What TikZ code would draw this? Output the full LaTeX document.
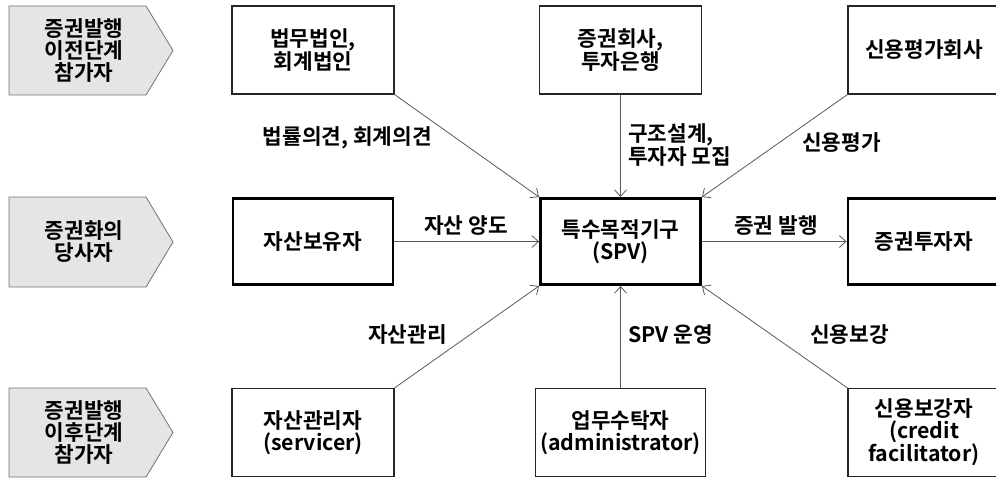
\documentclass[tikz,border=0pt]{standalone}
\usepackage{fontspec}
\setmainfont{Noto Sans CJK KR Bold}
\usetikzlibrary{arrows.meta}

\begin{document}
\begin{tikzpicture}
  [x=0.75pt,y=-0.75pt,
   every node/.style={font=\fontsize{16}{16.5}\selectfont,align=center},
   phase/.style={draw=black!55,fill=black!10,line width=0.6pt},
   thinbox/.style={draw=black!85,line width=0.8pt,minimum width=121.5pt,minimum height=66pt},
   thickbox/.style={draw=black,line width=2.2pt,minimum width=120pt,minimum height=64.5pt},
   flow/.style={draw=black!65,line width=0.6pt,-{Straight Barb[length=5pt,width=9pt]}},
   lbl/.style={inner sep=0pt}]
  \useasboundingbox (0,0) rectangle (996,478);
  \clip (0,0) rectangle (996,478);

  % stages
  \draw[phase] (9,6) -- (146,6) -- (173,50.5) -- (146,95) -- (9,95) -- cycle;
  \draw[phase] (9,197) -- (146,197) -- (173,242) -- (146,287) -- (9,287) -- cycle;
  \draw[phase] (9,388) -- (146,388) -- (173,432.5) -- (146,477) -- (9,477) -- cycle;
  \node (ph1) at (84,50.5) {증권발행\\이전단계\\참가자};
  \node (ph2) at (84,242) {증권화의\\당사자};
  \node (ph3) at (84,432.5) {증권발행\\이후단계\\참가자};

  % participants
  \node[thinbox] (law) at (313,50) {법무법인,\\회계법인};
  \node[thinbox] (sec) at (620.5,50) {증권회사,\\투자은행};
  \node[thinbox,minimum width=114pt] (rating) at (924,50) {신용평가회사};
  \node[thickbox] (orig) at (313,241.5) {자산보유자};
  \node[thickbox] (spv) at (620.5,241.5) {특수목적기구\\(SPV)};
  \node[thickbox,minimum width=114pt] (inv) at (924,241.5) {증권투자자};
  \node[thinbox] (serv) at (313,432.5) {자산관리자\\(servicer)};
  \node[thinbox] (admin) at (620.5,432.5) {업무수탁자\\(administrator)};
  \node[thinbox,minimum width=114pt] (credit) at (924,432.5) {신용보강자\\(credit\\facilitator)};

  \foreach \from/\to in {law.south east/spv.north west,sec.south/spv.north,rating.south west/spv.north east,
                         orig.east/spv.west,spv.east/inv.west,
                         serv.north east/spv.south west,admin.north/spv.south,credit.north west/spv.south east}
    \draw[flow] (\from) -- (\to);

  % labels
  \node[lbl,anchor=east] (l1) at (432,138) {법률의견, 회계의견};
  \node[lbl,anchor=west,align=left] (l2) at (628,145) {구조설계,\\투자자 모집};
  \node[lbl,anchor=west] (l3) at (802,142) {신용평가};
  \node[lbl] (l4) at (466,226) {자산 양도};
  \node[lbl] (l5) at (776,226) {증권 발행};
  \node[lbl,anchor=east] (l6) at (447,335) {자산관리};
  \node[lbl,anchor=west] (l7) at (628,335) {SPV 운영};
  \node[lbl,anchor=west] (l8) at (810,335) {신용보강};

\end{tikzpicture}
\end{document}
